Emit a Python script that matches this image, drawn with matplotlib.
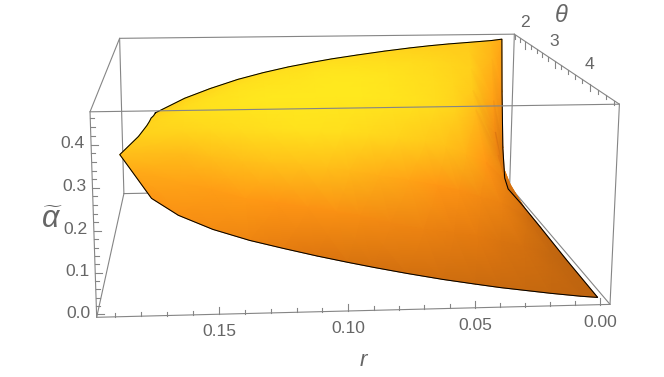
import numpy as np
import matplotlib
matplotlib.use('Agg')
import matplotlib.pyplot as plt
from matplotlib.colors import LinearSegmentedColormap

# surface data: rows go with r, columns go with theta
theta_vals = [1.571, 1.64, 1.74, 1.85, 2.0, 2.5, 3.14, 3.9, 4.712]
r_vals = [
    [0.180, 0.1807, 0.1818, 0.1823, 0.1833, 0.186, 0.1925, 0.1848, 0.175],
    [0.165] * 9,
    [0.152] * 9,
    [0.138] * 9,
    [0.125] * 9,
    [0.112] * 9,
    [0.100] * 9,
    [0.090] * 9,
    [0.077] * 9,
    [0.063] * 9,
    [0.050] * 9,
    [0.040] * 9,
    [0.030] * 9,
    [0.020] * 9,
    [0.008] * 9,
    [0.0025, 0.0025, 0.0025, 0.0025, 0.0025, 0.0022, 0.0018, 0.0015, 0.0012],
]
alpha_vals = [
    [0.245, 0.2415, 0.2411, 0.240, 0.238, 0.2447, 0.246, 0.2661, 0.273],
    [0.289, 0.288, 0.285, 0.280, 0.275, 0.260, 0.245, 0.235, 0.232],
    [0.318, 0.317, 0.312, 0.304, 0.290, 0.262, 0.235, 0.215, 0.197],
    [0.345, 0.343, 0.336, 0.322, 0.300, 0.260, 0.220, 0.190, 0.169],
    [0.365, 0.361, 0.353, 0.337, 0.312, 0.260, 0.215, 0.178, 0.148],
    [0.382, 0.378, 0.368, 0.349, 0.320, 0.260, 0.210, 0.165, 0.128],
    [0.395, 0.390, 0.378, 0.356, 0.320, 0.255, 0.200, 0.152, 0.111],
    [0.405, 0.399, 0.385, 0.360, 0.320, 0.250, 0.190, 0.140, 0.0975],
    [0.416, 0.409, 0.393, 0.365, 0.315, 0.240, 0.175, 0.120, 0.081],
    [0.427, 0.419, 0.400, 0.370, 0.310, 0.230, 0.160, 0.100, 0.0645],
    [0.436, 0.426, 0.400, 0.365, 0.300, 0.215, 0.145, 0.090, 0.051],
    [0.442, 0.430, 0.400, 0.360, 0.290, 0.200, 0.130, 0.080, 0.041],
    [0.447, 0.431, 0.392, 0.342, 0.280, 0.175, 0.110, 0.065, 0.0325],
    [0.451, 0.430, 0.380, 0.320, 0.270, 0.150, 0.090, 0.050, 0.024],
    [0.456, 0.400, 0.280, 0.190, 0.130, 0.080, 0.050, 0.030, 0.015],
    [0.460, 0.300, 0.131, 0.046, 0.025, 0.025, 0.020, 0.014, 0.011],
]
shade_vals = [
    [0.80, 0.82, 0.84, 0.85, 0.86, 0.84, 0.72, 0.60, 0.47],
    [0.84, 0.87, 0.90, 0.92, 0.93, 0.87, 0.70, 0.56, 0.42],
    [0.88, 0.90, 0.92, 0.95, 0.96, 0.90, 0.72, 0.52, 0.36],
    [0.90, 0.92, 0.95, 0.97, 0.98, 0.92, 0.72, 0.50, 0.29],
    [0.92, 0.94, 0.96, 0.98, 1.00, 0.94, 0.74, 0.47, 0.20],
    [0.92, 0.94, 0.96, 0.98, 1.00, 0.96, 0.74, 0.45, 0.14],
    [0.92, 0.94, 0.97, 0.99, 1.00, 0.95, 0.72, 0.42, 0.12],
    [0.92, 0.94, 0.97, 1.00, 1.00, 0.94, 0.68, 0.38, 0.10],
    [0.90, 0.92, 0.96, 0.99, 1.00, 0.90, 0.62, 0.32, 0.09],
    [0.88, 0.90, 0.94, 0.97, 0.98, 0.86, 0.56, 0.26, 0.08],
    [0.85, 0.87, 0.92, 0.94, 0.95, 0.80, 0.48, 0.21, 0.06],
    [0.83, 0.85, 0.90, 0.92, 0.92, 0.74, 0.42, 0.17, 0.05],
    [0.80, 0.83, 0.87, 0.88, 0.86, 0.64, 0.34, 0.12, 0.04],
    [0.80, 0.82, 0.84, 0.80, 0.70, 0.48, 0.25, 0.09, 0.03],
    [0.68, 0.66, 0.54, 0.34, 0.25, 0.17, 0.08, 0.03, 0.01],
    [0.58, 0.46, 0.13, 0.06, 0.08, 0.05, 0.02, 0.00, 0.00],
]

# ticks
r_ticks = [0.00, 0.01, 0.02, 0.03, 0.04, 0.05, 0.06, 0.07, 0.08, 0.09, 0.10,
           0.11, 0.12, 0.13, 0.14, 0.15, 0.16, 0.17, 0.18, 0.19]
r_labels = {0.00: '0.00', 0.05: '0.05', 0.10: '0.10', 0.15: '0.15'}
theta_ticks = [1.6, 1.8, 2.0, 2.2, 2.4, 2.6, 2.8, 3.0, 3.2, 3.4, 3.6, 3.8,
               4.0, 4.2, 4.4, 4.6]
theta_labels = {2.0: '2', 3.0: '3', 4.0: '4'}
alpha_ticks = [0.00, 0.02, 0.04, 0.06, 0.08, 0.10, 0.12, 0.14, 0.16, 0.18,
               0.20, 0.22, 0.24, 0.26, 0.28, 0.30, 0.32, 0.34, 0.36, 0.38,
               0.40, 0.42, 0.44, 0.46]
alpha_labels = {0.0: '0.0', 0.1: '0.1', 0.2: '0.2', 0.3: '0.3', 0.4: '0.4'}

# box limits and where its corners land on the picture
r_lo, r_hi = -0.0039, 0.197
th_lo, th_hi = 1.5708, 4.7124
al_lo, al_hi = -0.007, 0.475
corners = {
    (r_hi, th_lo, al_hi): (119.5, 38.5),
    (r_lo, th_lo, al_hi): (515.0, 34.0),
    (r_hi, th_hi, al_hi): (90.0, 112.0),
    (r_lo, th_hi, al_hi): (618.7, 104.0),
    (r_hi, th_hi, al_lo): (96.7, 317.7),
    (r_lo, th_hi, al_lo): (610.7, 304.0),
    (r_hi, th_lo, al_lo): (124.0, 193.0),
    (r_lo, th_lo, al_lo): (509.0, 187.0),
}

# fit a camera matrix to the corners
rows = []
rhs = []
for (a, b, c), (px, py) in corners.items():
    rows.append([a, b, c, 1, 0, 0, 0, 0, -px * a, -px * b, -px * c])
    rhs.append(px)
    rows.append([0, 0, 0, 0, a, b, c, 1, -py * a, -py * b, -py * c])
    rhs.append(py)
cam = np.linalg.lstsq(np.array(rows), np.array(rhs), rcond=None)[0]
cam = np.append(cam, 1.0).reshape(3, 4)


def project(r, th, al):
    r, th, al = np.asarray(r, float), np.asarray(th, float), np.asarray(al, float)
    w = cam[2, 0] * r + cam[2, 1] * th + cam[2, 2] * al + cam[2, 3]
    x = (cam[0, 0] * r + cam[0, 1] * th + cam[0, 2] * al + cam[0, 3]) / w
    y = (cam[1, 0] * r + cam[1, 1] * th + cam[1, 2] * al + cam[1, 3]) / w
    return x, y


plt.rcParams['mathtext.fontset'] = 'custom'
plt.rcParams['mathtext.it'] = 'Liberation Sans:italic'
plt.rcParams['mathtext.rm'] = 'Liberation Sans'

fig = plt.figure(figsize=(6.64, 3.77), dpi=100)
ax = fig.add_axes([0, 0, 1, 1])
ax.set_xlim(0, 664)
ax.set_ylim(377, 0)
ax.axis('off')

GREY = '#858585'
TEXT = '#666666'
FONT = 'Liberation Sans'


def box_line(p, q, z):
    x, y = project(*zip(p, q))
    ax.plot(x, y, color=GREY, lw=0.8, zorder=z, solid_capstyle='round')


# edges behind the surface
box_line((r_hi, th_lo, al_hi), (r_lo, th_lo, al_hi), 1)
box_line((r_hi, th_lo, al_hi), (r_hi, th_lo, al_lo), 1)
box_line((r_lo, th_lo, al_hi), (r_lo, th_lo, al_lo), 1)
box_line((r_hi, th_lo, al_lo), (r_lo, th_lo, al_lo), 1)
box_line((r_hi, th_lo, al_lo), (r_hi, th_hi, al_lo), 1)
box_line((r_lo, th_lo, al_lo), (r_lo, th_hi, al_lo), 1)
box_line((r_hi, th_lo, al_hi), (r_hi, th_hi, al_hi), 1)
box_line((r_lo, th_lo, al_hi), (r_lo, th_hi, al_hi), 1)

# surface
cmap = LinearSegmentedColormap.from_list('sun', [
    (0.0, (190 / 255, 100 / 255, 15 / 255)),
    (0.15, (225 / 255, 120 / 255, 15 / 255)),
    (0.48, (255 / 255, 150 / 255, 20 / 255)),
    (0.72, (255 / 255, 190 / 255, 25 / 255)),
    (1.0, (255 / 255, 232 / 255, 30 / 255)),
])
rr = np.array(r_vals)
tt = np.tile(np.array(theta_vals), (len(r_vals), 1))
aa = np.array(alpha_vals)
X, Y = project(rr, tt, aa)
ax.pcolormesh(X, Y, np.array(shade_vals), shading='gouraud', cmap=cmap,
              vmin=0, vmax=1, zorder=2)

# black outline of the surface
outline_x = np.concatenate([X[0, :], X[:, -1], X[-1, ::-1], X[::-1, 0]])
outline_y = np.concatenate([Y[0, :], Y[:, -1], Y[-1, ::-1], Y[::-1, 0]])
ax.plot(outline_x, outline_y, color='black', lw=0.75, zorder=3,
        solid_joinstyle='round')

# edges in front of the surface
box_line((r_hi, th_hi, al_hi), (r_lo, th_hi, al_hi), 4)
box_line((r_hi, th_hi, al_hi), (r_hi, th_hi, al_lo), 4)
box_line((r_lo, th_hi, al_hi), (r_lo, th_hi, al_lo), 4)
box_line((r_hi, th_hi, al_lo), (r_lo, th_hi, al_lo), 4)

# r ticks on the front bottom edge
for t in r_ticks:
    major = t in r_labels
    x0, y0 = project(t, th_hi, al_lo)
    ax.plot([x0, x0], [y0, y0 - (7 if major else 4)], color=GREY, lw=0.8, zorder=4)
    if major:
        ax.text(x0, y0 + 17.5, r_labels[t], family=FONT, fontsize=12.6, color=TEXT,
                ha='center', va='center')

# alpha ticks on the front left edge
for t in alpha_ticks:
    major = t in alpha_labels
    x0, y0 = project(r_hi, th_hi, t)
    ax.plot([x0, x0 + (7 if major else 4)], [y0, y0], color=GREY, lw=0.8, zorder=4)
    if major:
        ax.text(x0 - 6, y0 - 1, alpha_labels[t], family=FONT, fontsize=12.6, color=TEXT,
                ha='right', va='center')

# theta ticks on the top right edge
for t in theta_ticks:
    major = t in theta_labels
    x0, y0 = project(r_lo, t, al_hi)
    ax.plot([x0, x0], [y0, y0 + (7 if major else 4)], color=GREY, lw=0.8, zorder=4)
    if major:
        ax.text(x0, y0 - 19.5, theta_labels[t], family=FONT, fontsize=12.6, color=TEXT,
                ha='center', va='center')

# axis names
ax.text(363.5, 360, 'r', family=FONT, style='italic', fontsize=16, color=TEXT,
        ha='center', va='center')
ax.text(561, 15, '\u03b8', family=FONT, style='italic', fontsize=17, color=TEXT,
        ha='center', va='center')
ax.text(52, 219, r'$\widetilde{\alpha}$', fontsize=22, color=TEXT,
        ha='center', va='center')

fig.savefig('out.png', dpi=100)
